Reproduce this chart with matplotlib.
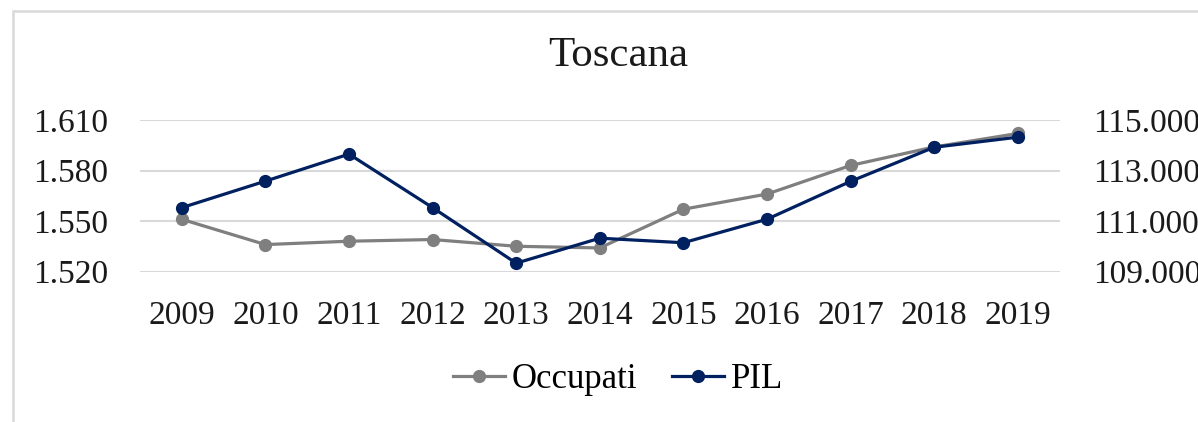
import matplotlib.pyplot as plt
from matplotlib.patches import Rectangle
from matplotlib.ticker import FuncFormatter

plt.rcParams['font.family'] = ['Liberation Serif', 'DejaVu Serif']

years = ['2009', '2010', '2011', '2012', '2013', '2014', '2015', '2016', '2017', '2018', '2019']
occupati = [1551, 1536, 1538, 1539, 1535, 1534, 1557, 1566, 1583, 1594, 1602]
pil = [111530, 112580, 113650, 111530, 109330, 110320, 110140, 111070, 112570, 113920, 114320]

grey = '#7f7f7f'
navy = '#002060'
grid = '#d9d9d9'


def it_fmt(v, pos):
    return '{:,.0f}'.format(v).replace(',', '.')


fig = plt.figure(figsize=(11.98, 4.22), dpi=100)
ax = fig.add_axes([0.1169, 0.3566, 0.7675, 0.359])
ax2 = ax.twinx()

x = range(len(years))
l1, = ax.plot(x, occupati, color=grey, lw=2.3, marker='o', ms=8.5, label='Occupati')
l2, = ax2.plot(x, pil, color=navy, lw=2.3, marker='o', ms=8.5, label='PIL')

ax.set_xlim(-0.5, len(years) - 0.5)
ax.set_ylim(1520, 1610)
ax.set_yticks([1520, 1550, 1580, 1610])
ax2.set_ylim(109000, 115000)
ax2.set_yticks([109000, 111000, 113000, 115000])
ax.yaxis.set_major_formatter(FuncFormatter(it_fmt))
ax2.yaxis.set_major_formatter(FuncFormatter(it_fmt))
ax.set_xticks(list(x))
ax.set_xticklabels(years)

ax.grid(axis='y', color=grid, lw=1.5)
ax.set_axisbelow(True)
for a in (ax, ax2):
    for s in a.spines.values():
        s.set_visible(False)
ax.tick_params(axis='x', length=0, pad=21, labelsize=24, colors='#1a1a1a')
ax.tick_params(axis='y', length=0, pad=23, labelsize=24, colors='#1a1a1a')
ax2.tick_params(axis='y', length=0, pad=24, labelsize=24, colors='#1a1a1a')

fig.text(618 / 1198, 1 - 56 / 422, 'Toscana', ha='center', va='center', fontsize=31, color='#1a1a1a')

fig.legend([l1, l2], ['Occupati', 'PIL'], loc='center', bbox_to_anchor=(618 / 1198, 1 - 380 / 422),
           ncol=2, frameon=False, fontsize=25, handlelength=1.5, handletextpad=0.2, columnspacing=1.0)

fig.patches.append(Rectangle((13 / 1198, -0.1), 1.2, 1 - 11 / 422 + 0.1, transform=fig.transFigure,
                             fill=False, edgecolor=grid, lw=1.8))

fig.savefig('out.png', dpi=100)
